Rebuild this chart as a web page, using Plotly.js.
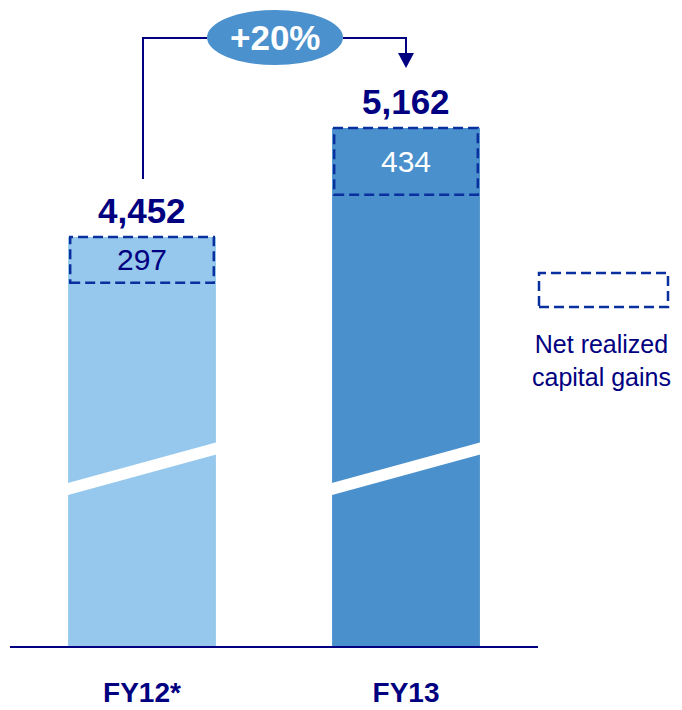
<!DOCTYPE html>
<html>
<head>
<meta charset="utf-8">
<script src="https://cdn.plot.ly/plotly-3.0.1.min.js"></script>
<style>
  html, body { margin: 0; padding: 0; background: #ffffff; }
  #chart { width: 682px; height: 710px; }
</style>
</head>
<body>
<div id="chart"></div>
<script>
// Operating result by fiscal year, with the share from net realized capital gains
const categories = ['FY12*', 'FY13'];
const totals = [4452, 5162];
const capitalGains = [297, 434];
const growthLabel = '+20%';
const legendLabel = 'Net realized<br>capital gains';

const barColors = ['#95c8ec', '#4a90cc'];
const gainTextColors = ['#000080', '#ffffff'];
const NAVY = '#000080';
const DASH_BLUE = '#0a2f9e';
const FONT = 'Liberation Sans, Arial, sans-serif';

// Plot area geometry (pixels) used for paper-referenced decorations
const W = 682, H = 710;
const M = { l: 10, r: 144, t: 0, b: 64 };
const plotW = W - M.l - M.r;
const plotH = H - M.t - M.b;
const px = x => (x - M.l) / plotW;
const py = y => (M.t + plotH - y) / plotH;

const BARGAP = 0.44;
const half = (1 - BARGAP) / 2;

const fmt = v => v.toLocaleString('en-US');

const bars = {
  type: 'bar',
  x: categories,
  y: totals,
  marker: { color: barColors, line: { width: 0 } },
  hoverinfo: 'skip',
  showlegend: false
};

const shapes = [];
const annotations = [];

categories.forEach((c, i) => {
  // dashed box marking the capital-gains slice at the top of each bar
  shapes.push({
    type: 'rect', xref: 'x', yref: 'y',
    x0: i - half + 0.008, x1: i + half - 0.008,
    y0: totals[i] - capitalGains[i], y1: totals[i],
    line: { color: DASH_BLUE, width: 2.5, dash: '10px,5px' },
    fillcolor: 'rgba(0,0,0,0)', layer: 'above'
  });
  // axis-break band across the bar
  shapes.push({
    type: 'line', xref: 'x', yref: 'paper',
    x0: i - half - 0.023, x1: i + half + 0.023,
    y0: 0.2406, y1: 0.3082,
    line: { color: '#ffffff', width: 11.6 }, layer: 'above'
  });
  // total on top of the bar
  annotations.push({
    xref: 'x', yref: 'y', x: i, y: totals[i],
    text: fmt(totals[i]), showarrow: false,
    yanchor: 'middle', yshift: 27,
    font: { family: FONT, size: 35, color: NAVY, weight: 'bold' }
  });
  // capital-gains value inside its dashed box
  annotations.push({
    xref: 'x', yref: 'y', x: i, y: totals[i] - capitalGains[i] / 2,
    text: fmt(capitalGains[i]), showarrow: false,
    yanchor: 'middle',
    font: { family: FONT, size: 30, color: gainTextColors[i] }
  });
});

// growth bracket from the first bar to the second
shapes.push({
  type: 'path', xref: 'paper', yref: 'paper',
  path: `M ${px(143)} ${py(179)} L ${px(143)} ${py(38)} L ${px(207)} ${py(38)}`,
  line: { color: NAVY, width: 2 }
});
shapes.push({
  type: 'path', xref: 'paper', yref: 'paper',
  path: `M ${px(343)} ${py(38)} L ${px(406)} ${py(38)} L ${px(406)} ${py(54)}`,
  line: { color: NAVY, width: 2 }
});
shapes.push({
  type: 'path', xref: 'paper', yref: 'paper',
  path: `M ${px(398)} ${py(53)} L ${px(414)} ${py(53)} L ${px(406)} ${py(68)} Z`,
  fillcolor: NAVY, line: { width: 0 }
});
shapes.push({
  type: 'circle', xref: 'paper', yref: 'paper',
  x0: px(207), x1: px(343), y0: py(65), y1: py(10),
  fillcolor: '#4b91cd', line: { width: 0 }
});
annotations.push({
  xref: 'paper', yref: 'paper', x: px(275), y: py(37),
  text: growthLabel, showarrow: false, xanchor: 'center', yanchor: 'middle',
  font: { family: FONT, size: 35, color: '#ffffff', weight: 'bold' }
});

// legend key
shapes.push({
  type: 'rect', xref: 'paper', yref: 'paper',
  x0: px(539), x1: px(668), y0: py(307), y1: py(273),
  line: { color: DASH_BLUE, width: 2.5, dash: '10px,5px' },
  fillcolor: 'rgba(0,0,0,0)'
});
annotations.push({
  xref: 'paper', yref: 'paper', x: px(601), y: py(360),
  text: legendLabel, showarrow: false, xanchor: 'center', yanchor: 'middle',
  align: 'center',
  font: { family: FONT, size: 25, color: NAVY }
});

const layout = {
  width: W, height: H,
  margin: M,
  paper_bgcolor: '#ffffff', plot_bgcolor: '#ffffff',
  bargap: BARGAP,
  showlegend: false,
  xaxis: {
    type: 'category',
    range: [-0.5, 1.5],
    showgrid: false, zeroline: false,
    showline: true, linecolor: NAVY, linewidth: 2,
    ticks: '', ticklabelstandoff: 20,
    tickfont: { family: FONT, size: 28, color: NAVY, weight: 'bold' },
    fixedrange: true
  },
  yaxis: {
    range: [1788, 5996],
    visible: false, showgrid: false, zeroline: false,
    fixedrange: true
  },
  shapes: shapes,
  annotations: annotations,
  hovermode: false
};

Plotly.newPlot('chart', [bars], layout, { displayModeBar: false, staticPlot: true });
</script>
</body>
</html>
